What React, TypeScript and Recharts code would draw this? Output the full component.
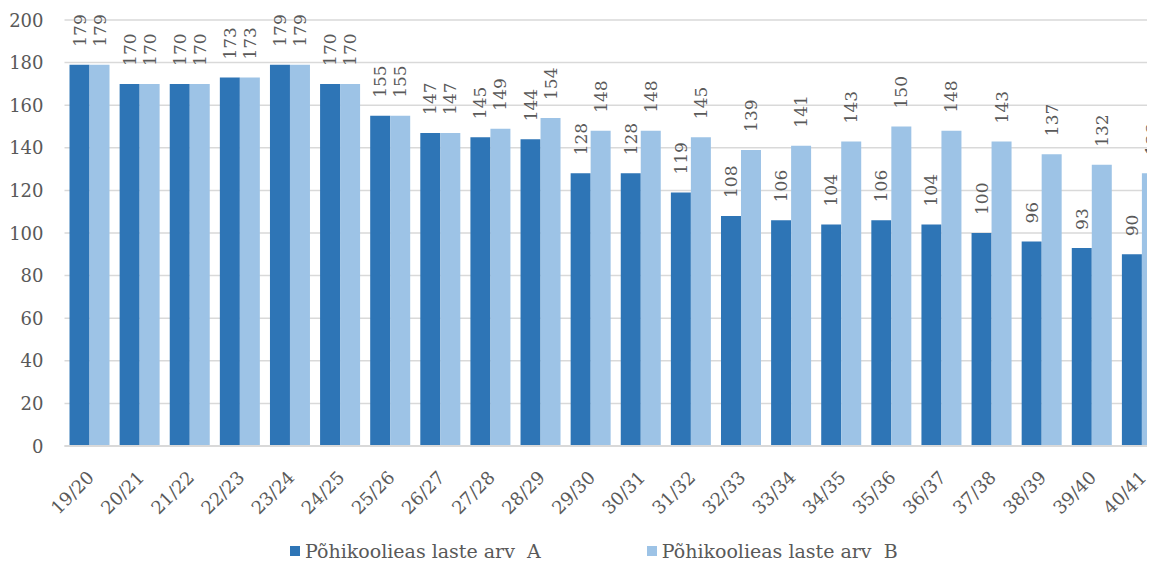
import React from 'react';
import { BarChart, Bar, XAxis, YAxis, CartesianGrid, Legend, LabelList } from 'recharts';

const years = [
  '19/20', '20/21', '21/22', '22/23', '23/24', '24/25', '25/26', '26/27', '27/28', '28/29', '29/30',
  '30/31', '31/32', '32/33', '33/34', '34/35', '35/36', '36/37', '37/38', '38/39', '39/40', '40/41',
];
const seriesA = [179, 170, 170, 173, 179, 170, 155, 147, 145, 144, 128, 128, 119, 108, 106, 104, 106, 104, 100, 96, 93, 90];
const seriesB = [179, 170, 170, 173, 179, 170, 155, 147, 149, 154, 148, 148, 145, 139, 141, 143, 150, 148, 143, 137, 132, 128];
const yTicks = [0, 20, 40, 60, 80, 100, 120, 140, 160, 180, 200];

const data = years.map((year, i) => ({ year, a: seriesA[i], b: seriesB[i] }));

const FONT = '"DejaVu Serif", serif';
const TEXT = '#595959';
const DARK = '#2E75B6';
const LIGHT = '#9DC3E6';

const renderLabel = (props: any) => {
  const x = Number(props.x);
  const y = Number(props.y);
  const w = Number(props.width);
  return (
    <text
      transform={`translate(${x + w / 2},${y - 18}) rotate(-90)`}
      textAnchor="start"
      dominantBaseline="central"
      fill={TEXT}
      style={{ fontFamily: FONT, fontSize: 17 }}
    >
      {props.value}
    </text>
  );
};

const XTick = (props: any) => {
  const { x, y, payload } = props;
  return (
    <text
      transform={`translate(${x + 1},${y + 28}) rotate(-45)`}
      textAnchor="end"
      dominantBaseline="central"
      fill={TEXT}
      style={{ fontFamily: FONT, fontSize: 18 }}
    >
      {payload.value}
    </text>
  );
};

const YTick = (props: any) => {
  const { x, y, payload } = props;
  return (
    <text
      x={x}
      y={y}
      textAnchor="end"
      dominantBaseline="central"
      fill={TEXT}
      style={{ fontFamily: FONT, fontSize: 18 }}
    >
      {payload.value}
    </text>
  );
};

const renderLegend = () => (
  <div style={{ display: 'flex', alignItems: 'center', height: 40, paddingTop: 6, boxSizing: 'border-box', paddingLeft: 290, fontFamily: FONT, fontSize: 19, color: TEXT }}>
    <span style={{ display: 'inline-block', width: 10, height: 10, background: DARK, marginRight: 5 }} />
    <span style={{ whiteSpace: 'pre', marginRight: 106 }}>Põhikoolieas laste arv  A</span>
    <span style={{ display: 'inline-block', width: 10, height: 10, background: LIGHT, marginRight: 5 }} />
    <span style={{ whiteSpace: 'pre' }}>Põhikoolieas laste arv  B</span>
  </div>
);

export default function App() {
  return (
    <div style={{ margin: -8, width: 1155, height: 568, overflow: 'hidden', background: '#fff', fontFamily: FONT }}>
      <BarChart
        width={1167}
        height={568}
        data={data}
        margin={{ top: 20, right: 0, bottom: 0, left: 0 }}
        barCategoryGap="10%"
        barGap={0}
      >
        <CartesianGrid vertical={false} stroke="#D9D9D9" strokeWidth={1.5} />
        <XAxis
          dataKey="year"
          height={82}
          interval={0}
          tickLine={false}
          tickSize={0}
          tickMargin={0}
          axisLine={{ stroke: '#D9D9D9', strokeWidth: 2 }}
          tick={<XTick />}
        />
        <YAxis
          width={64.5}
          domain={[0, 200]}
          ticks={yTicks}
          axisLine={false}
          tickLine={false}
          tickSize={0}
          tickMargin={21}
          tick={<YTick />}
        />
        <Legend verticalAlign="bottom" height={40} content={renderLegend} wrapperStyle={{ left: 0, width: 1167 }} />
        <Bar dataKey="a" name="Põhikoolieas laste arv  A" fill={DARK} isAnimationActive={false}>
          <LabelList dataKey="a" content={renderLabel} />
        </Bar>
        <Bar dataKey="b" name="Põhikoolieas laste arv  B" fill={LIGHT} isAnimationActive={false}>
          <LabelList dataKey="b" content={renderLabel} />
        </Bar>
      </BarChart>
    </div>
  );
}
